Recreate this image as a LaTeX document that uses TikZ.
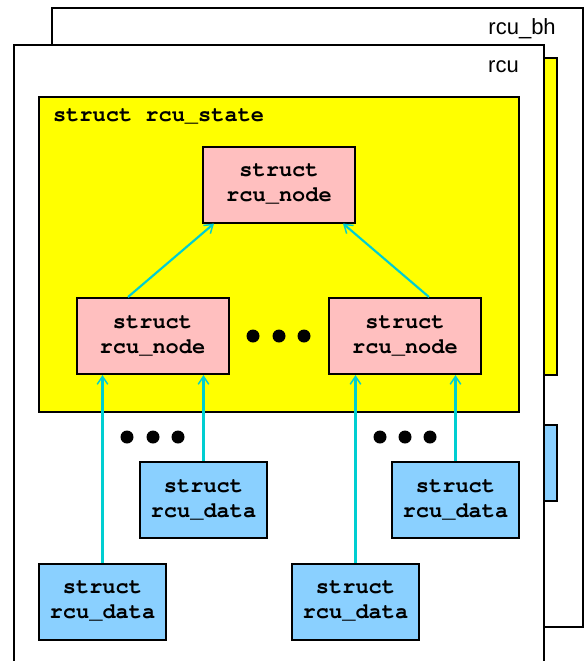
\documentclass[tikz,border=0pt]{standalone}
\usepackage{fontspec}
\setmainfont{Liberation Sans}
\setsansfont{Liberation Sans}
\setmonofont{Liberation Mono}
\usetikzlibrary{arrows.meta,calc}
\definecolor{stateyellow}{HTML}{FFFF00}
\definecolor{nodepink}{HTML}{FFBFBF}
\definecolor{datablue}{HTML}{8AD0FF}
\definecolor{linkcyan}{HTML}{00CED1}
\newcommand{\courierbold}{\fontencoding{T1}\fontfamily{pcr}\fontseries{b}\fontshape{n}\fontsize{16.5}{18.75}\selectfont}
\tikzset{
  frame/.style={draw=black, fill=white, line width=1.5pt},
  statebox/.style={draw=black, fill=stateyellow, line width=1.5pt},
  box/.style={draw=black, line width=1.5pt, inner sep=0pt, align=center,
    font=\courierbold},
  rnode/.style={box, fill=nodepink, minimum width=114pt, minimum height=57pt},
  rdata/.style={box, fill=datablue, minimum width=95.25pt, minimum height=57pt},
  ghost/.style={draw=black, line width=1.5pt, inner sep=0pt},
  lbl/.style={inner sep=0pt, font=\sffamily\fontsize{16.5}{19}\selectfont},
  link/.style={draw=linkcyan, line width=1.6pt, -{Straight Barb[length=6pt,width=8pt,line width=1.1pt]}},
  dot/.style={fill=black, draw=none}
}
\begin{document}
\begin{tikzpicture}[x=0.75pt, y=-0.75pt]
\useasboundingbox (0,0) rectangle (587,661);
\clip (0,0) rectangle (587,661);
% back copy (rcu_bh)
\draw[frame] (52,8) rectangle (583,627);
\node[lbl, anchor=base east] (bhlabel) at (556,34) {rcu\_bh};
\draw[statebox] (77,58) rectangle (557,375);
\draw[ghost, fill=datablue] (430,425) rectangle (557,501);
% front copy (rcu)
\draw[frame] (14,45) rectangle (544,680);
\node[lbl, anchor=base east] (rculabel) at (519,72) {rcu};
\draw[statebox] (39,97) rectangle (519,412);
\node[box, fill=none, draw=none, anchor=base west] (statelabel) at (52,121) {struct rcu\_state};
% rcu_node tree
\node[rnode] (tn) at (279,184.5) {struct\\rcu\_node};
\node[rnode] (ln) at (152.5,336) {struct\\rcu\_node};
\node[rnode] (rn) at (405,336) {struct\\rcu\_node};
% rcu_data
\node[rdata] (d1) at (203.5,500) {struct\\rcu\_data};
\node[rdata] (d2) at (455.5,500) {struct\\rcu\_data};
\node[rdata] (d3) at (102.5,601.5) {struct\\rcu\_data};
\node[rdata] (d4) at (355.5,601.5) {struct\\rcu\_data};
% links
\draw[link] ($(ln.north)+(-24.5,0)$) -- ($(tn.south)+(-65,0)$);
\draw[link] ($(rn.north)+(24,0)$) -- ($(tn.south)+(64,0)$);
\draw[link] (d3.north) -- (d3.north |- ln.south);
\draw[link] (d1.north) -- (d1.north |- ln.south);
\draw[link] (d4.north) -- (d4.north |- rn.south);
\draw[link] (d2.north) -- (d2.north |- rn.south);
% ellipsis dots
\foreach \x in {253,279,304} \fill[dot] (\x,336) circle (6.5);
\foreach \x in {127,153,178,380,405,430} \fill[dot] (\x,437) circle (6.5);
\end{tikzpicture}
\end{document}
